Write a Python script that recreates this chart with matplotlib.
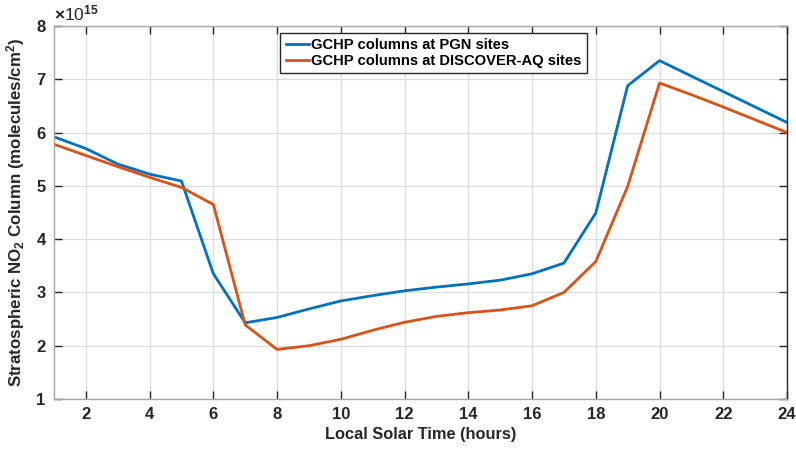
import matplotlib
matplotlib.use('Agg')
from matplotlib import pyplot as plt

hours = list(range(1, 25))
# values in units of 1e15 molecules/cm^2
pgn = [5.92, 5.70, 5.41, 5.22, 5.09, 3.35, 2.43, 2.53, 2.69, 2.84, 2.94, 3.03,
       3.10, 3.16, 3.23, 3.35, 3.55, 4.49, 6.88, 7.35, 7.06, 6.77, 6.48, 6.19]
dscaq = [5.78, 5.57, 5.36, 5.16, 4.97, 4.65, 2.39, 1.93, 2.00, 2.12, 2.29, 2.44,
         2.55, 2.62, 2.67, 2.75, 3.00, 3.58, 4.99, 6.93, 6.71, 6.48, 6.24, 6.00]
labels = ['GCHP columns at PGN sites', 'GCHP columns at DISCOVER-AQ sites']

plt.rcParams['font.family'] = ['Liberation Sans', 'DejaVu Sans']
plt.rcParams['font.weight'] = 'bold'
plt.rcParams['mathtext.fontset'] = 'custom'
plt.rcParams['mathtext.bf'] = 'Liberation Sans:bold'
plt.rcParams['mathtext.rm'] = 'Liberation Sans'
plt.rcParams['mathtext.default'] = 'bf'

fig = plt.figure(figsize=(7.96, 4.5), dpi=100)
ax = fig.add_axes([54/796, 1-399/450, (787-54)/796, (399-26)/450])

ax.plot(hours, pgn, c='#0072BD', lw=2.0, label=labels[0])
ax.plot(hours, dscaq, c='#D95319', lw=2.0, label=labels[1])

ax.set_xlim(1, 24)
ax.set_ylim(1, 8)
ax.set_xticks(range(2, 25, 2))
ax.set_yticks(range(1, 9))
ax.grid(True, color='#dcdcdc', lw=0.9)
ax.set_axisbelow(True)
ax.tick_params(direction='in', length=6, width=1, top=True, right=True,
               labelsize=12, colors='#262626', pad=6)
for s in ['left', 'bottom', 'top']:
    ax.spines[s].set_color('#a6a6a6')
ax.spines['right'].set_color('#262626')
for s in ax.spines.values():
    s.set_linewidth(1)

ax.set_xlabel('Local Solar Time (hours)', fontsize=11.8, fontweight='bold', color='#262626', labelpad=3)
ax.set_ylabel(r'Stratospheric NO$_{2}$ Column (molecules/cm$^{2}$)', fontsize=12.2,
              fontweight='bold', color='#262626', labelpad=7)
ax.text(0.0, 1.008, r'$\mathrm{\times}$10$^{\mathrm{15}}$', transform=ax.transAxes, fontsize=12.5,
        fontweight='normal', color='#262626', ha='left', va='bottom')

leg = ax.legend(loc='upper left', bbox_to_anchor=(0.309, 0.982), fontsize=10.6,
                handlelength=1.6, handletextpad=0.15, borderpad=0.35,
                labelspacing=0.15, fancybox=False, framealpha=1,
                edgecolor='#262626', borderaxespad=0)
leg.get_frame().set_linewidth(1)

plt.savefig('out.png', dpi=100)
